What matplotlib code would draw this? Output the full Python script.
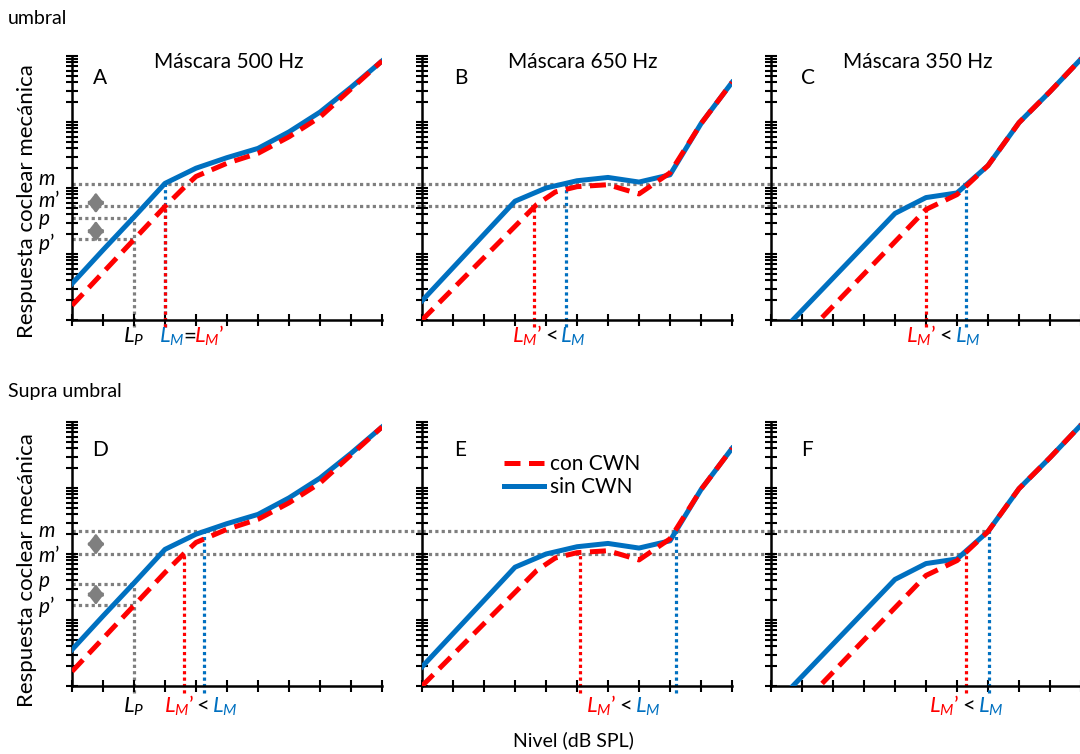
import numpy as np
import matplotlib
matplotlib.use('Agg')
import matplotlib.pyplot as plt
import matplotlib.transforms as mtrans
from matplotlib.ticker import LogLocator, NullFormatter

plt.rcParams['font.family'] = ['Lato', 'DejaVu Sans']
plt.rcParams['mathtext.fontset'] = 'custom'
plt.rcParams['mathtext.it'] = 'Lato:italic'
plt.rcParams['mathtext.rm'] = 'Lato'

AZUL = '#0070C0'
ROJO = '#FF0000'
GRIS = '#7F7F7F'

# Curvas entrada/salida (nivel dB SPL -> respuesta en dB)
# máscara 500 Hz (paneles A y D)
x_500_sin = [0, 10, 20, 30, 40, 50, 60, 70, 80, 90, 100]
y_500_sin = [11, 21.2, 31.2, 41.4, 46, 49.2, 52, 57, 63, 70.5, 78.5]
x_500_con = [0, 10, 20, 30, 36, 40, 50, 60, 70, 80, 90, 100]
y_500_con = [4.4, 14.4, 24.4, 34.4, 40, 43.5, 47.5, 50.5, 55.5, 61.5, 70, 78.5]
# máscara 650 Hz (paneles B y E)
x_650_sin = [0, 30, 40, 50, 60, 70, 80, 90, 100]
y_650_sin = [5.8, 36, 40, 42.2, 43.2, 41.8, 44, 59.5, 72]
x_650_con = [0, 37, 43, 50, 60, 70, 80, 90, 100]
y_650_con = [0, 35, 38.8, 40.4, 41, 38.2, 44.6, 59.5, 72]
# máscara 350 Hz (paneles C y F)
x_350_sin = [5, 40, 50, 60, 70, 80, 90, 100]
y_350_sin = [-2, 32.3, 37.1, 38.5, 46.8, 59.8, 69.2, 79.1]
x_350_con = [11, 50, 60, 64, 70, 80, 90, 100]
y_350_con = [-4.6, 33.5, 38, 41.5, 46.8, 59.8, 69.2, 79.1]

letras = ['A', 'B', 'C', 'D', 'E', 'F']
titulos = ['Máscara 500 Hz', 'Máscara 650 Hz', 'Máscara 350 Hz']
# niveles de enmascaramiento por panel
LM_sin = [30, 46.5, 63, 42.7, 82, 70.4]
LM_con = [30, 36, 50, 36.2, 51, 62.8]
pos_signo = [37.9, 41.7, 56.3, 42.3, 65.7, 63.8]
signos = ['=', '<', '<', '<', '<', '<']
LP = 20
# respuestas de referencia por fila (umbral, supra umbral)
nivel_m = [41.2, 47.0]
nivel_m2 = [34.5, 40.1]
nivel_p = [30.8, 31.0]
nivel_p2 = [24.4, 24.5]
flechas_m = [(38.6, 32.4), (46.2, 39.8)]
flechas_p = [(30.0, 23.8), (30.8, 24.6)]

curvas = [(x_500_sin, y_500_sin, x_500_con, y_500_con),
          (x_650_sin, y_650_sin, x_650_con, y_650_con),
          (x_350_sin, y_350_sin, x_350_con, y_350_con)]


def amp(db):
    return 10 ** (np.asarray(db, dtype=float) / 20)


W, H = 1080, 754
fig = plt.figure(figsize=(W / 100, H / 100), dpi=100)

def ftxt(x, y, s, **kw):
    fig.text(x / W, 1 - y / H, s, **kw)

punteado = (0, (1, 1))
izq = [72, 422, 771]
abajo = [320, 686]
ejes = []
for i in range(6):
    fila, col = divmod(i, 3)
    ax = fig.add_axes([izq[col] / W, 1 - abajo[fila] / H, 310 / W, 264 / H])
    ax.set_facecolor('none')
    ax.set_yscale('log')
    ax.set_ylim(1, 1e4)
    ax.set_xlim(0, 100)
    ax.set_xticks(np.arange(0, 101, 10))
    ax.yaxis.set_major_locator(LogLocator(base=10))
    ax.yaxis.set_minor_locator(LogLocator(base=10, subs=np.arange(2, 10)))
    ax.yaxis.set_major_formatter(NullFormatter())
    ax.yaxis.set_minor_formatter(NullFormatter())
    ax.set_xticklabels([])
    for s in ['top', 'right']:
        ax.spines[s].set_visible(False)
    for s in ['left', 'bottom']:
        ax.spines[s].set_linewidth(1.8)
    ax.tick_params(which='both', direction='inout', length=9, width=1.5,
                   left=True, bottom=True)
    ax.tick_params(axis='x', which='minor', bottom=False)

    xs, ys, xc, yc = curvas[col]
    m, m2 = nivel_m[fila], nivel_m2[fila]

    # líneas horizontales de referencia
    if col < 2:
        x_fin_m, x_fin_m2 = 113, 113
    else:
        x_fin_m, x_fin_m2 = LM_sin[i], LM_con[i]
    ax.plot([0, x_fin_m], amp([m, m]), ls=punteado, lw=2.3, color=GRIS,
            clip_on=False, zorder=1)
    ax.plot([0, x_fin_m2], amp([m2, m2]), ls=punteado, lw=2.3, color=GRIS,
            clip_on=False, zorder=1)
    if col == 0:
        for nv in [nivel_p[fila], nivel_p2[fila]]:
            ax.plot([0, LP], amp([nv, nv]), ls=punteado, lw=2.3, color=GRIS,
                    clip_on=False, zorder=1)
        ax.plot([LP, LP], amp([-2.2, nivel_p[fila]]), ls=punteado, lw=2.3,
                color=GRIS, clip_on=False, zorder=1)
        for (a, b) in [flechas_m[fila], flechas_p[fila]]:
            ax.annotate('', xy=(7.7, amp(a)), xytext=(7.7, amp(b)),
                        arrowprops=dict(arrowstyle='<|-|>,head_length=0.45,head_width=0.35',
                                        color=GRIS, lw=2, shrinkA=0, shrinkB=0,
                                        mutation_scale=14), zorder=2)

    # líneas verticales LM y LM'
    ax.plot([LM_sin[i]] * 2, amp([-2.2, m]), ls=punteado, lw=2.3, color=AZUL,
            clip_on=False, zorder=2)
    ax.plot([LM_con[i]] * 2, amp([-2.2, m2]), ls=punteado, lw=2.3, color=ROJO,
            clip_on=False, zorder=2)

    l_sin, = ax.plot(xs, amp(ys), color=AZUL, lw=3.6, zorder=3)
    l_con, = ax.plot(xc, amp(yc), color=ROJO, lw=3.6, ls=(0, (3.2, 1.7)),
                     zorder=4)

    # etiquetas bajo el eje x
    tr = mtrans.blended_transform_factory(ax.transData, ax.transAxes)
    dy = -23 if fila == 0 else -27
    fs = 16
    if col == 0:
        ax.annotate('$L_P$', (LP, 0), xycoords=tr, xytext=(0, dy),
                    textcoords='offset pixels', ha='center', va='baseline',
                    fontsize=fs, color='black')
    ax.annotate(signos[i], (pos_signo[i], 0), xycoords=tr, xytext=(0, dy),
                textcoords='offset pixels', ha='center', va='baseline',
                fontsize=fs, color='black')
    if signos[i] == '=':
        ax.annotate('$L_M$', (pos_signo[i], 0), xycoords=tr, xytext=(-5, dy),
                    textcoords='offset pixels', ha='right', va='baseline',
                    fontsize=fs, color=AZUL)
        ax.annotate('$L_M$\u2019', (pos_signo[i], 0), xycoords=tr,
                    xytext=(5, dy), textcoords='offset pixels', ha='left',
                    va='baseline', fontsize=fs, color=ROJO)
    else:
        ax.annotate('$L_M$\u2019', (pos_signo[i], 0), xycoords=tr,
                    xytext=(-9, dy), textcoords='offset pixels', ha='right',
                    va='baseline', fontsize=fs, color=ROJO)
        ax.annotate('$L_M$', (pos_signo[i], 0), xycoords=tr, xytext=(9, dy),
                    textcoords='offset pixels', ha='left', va='baseline',
                    fontsize=fs, color=AZUL)
    ejes.append((ax, l_sin, l_con))

ax_e, l_sin, l_con = ejes[4]
ax_e.legend([l_con, l_sin], ['con CWN', 'sin CWN'], loc='upper left',
            bbox_to_anchor=(0.205, 0.95), frameon=False, fontsize=15,
            handlelength=1.9, handletextpad=0.3, labelspacing=0.15)

# textos
ftxt(8, 19, 'umbral', fontsize=14, va='center')
ftxt(8, 392, 'Supra umbral', fontsize=14, va='center')
ftxt(27, 201, 'Respuesta coclear mecánica', fontsize=16, rotation=90,
     ha='center', va='center')
ftxt(27, 570, 'Respuesta coclear mecánica', fontsize=16, rotation=90,
     ha='center', va='center')
for t, xc in zip(titulos, [229, 583, 918]):
    ftxt(xc, 62, t, fontsize=15, ha='center', va='center')
for L, (x, y) in zip(letras, [(100, 78), (461, 78), (808, 78),
                              (100, 450), (460, 450), (807, 450)]):
    ftxt(x, y, L, fontsize=15, ha='center', va='center')
ftxt(573, 740, 'Nivel (dB SPL)', fontsize=14, ha='center', va='center')

for txt, yb in zip(['$m$', '$m$\u2019', '$p$', '$p$\u2019'], [185, 207, 225, 250]):
    ftxt(38, yb, txt, fontsize=15, va='baseline')
for txt, yb in zip(['$m$', '$m$\u2019', '$p$', '$p$\u2019'], [537, 562, 587, 613]):
    ftxt(38, yb, txt, fontsize=15, va='baseline')

fig.savefig('out.png', dpi=100)
